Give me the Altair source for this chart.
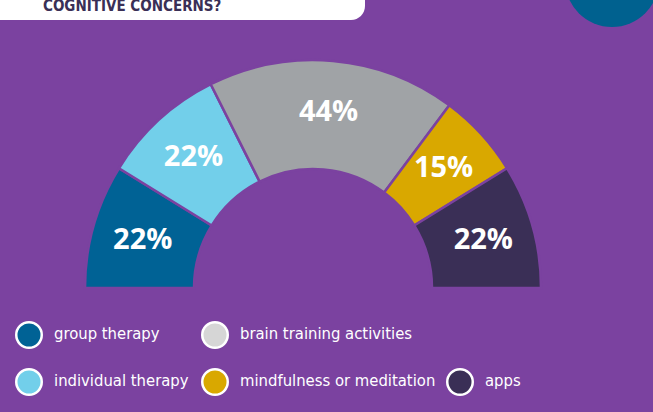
import math
import altair as alt
import pandas as pd

categories = ["group therapy", "individual therapy", "brain training activities",
              "mindfulness or meditation", "apps"]
values = [22, 22, 44, 15, 22]
labels = ["22%", "22%", "44%", "15%", "22%"]
arc_colors = ["#006295", "#72CFEA", "#A0A3A6", "#D9A800", "#3A2F56"]
legend_colors = ["#006295", "#72CFEA", "#D6D6D6", "#D9A800", "#3A2F56"]
title_text = "COGNITIVE CONCERNS?"

BG = "#7B42A0"
CX, CY = 313, 288
COND = "DejaVu Sans Condensed"

df = pd.DataFrame({"category": categories, "value": values, "label": labels,
                   "idx": list(range(len(categories)))})
one = pd.DataFrame({"a": [0]})

theta = alt.Theta("value:Q", stack=True,
                  scale=alt.Scale(range=[-math.pi / 2, math.pi / 2]))
color = alt.Color("category:N", scale=alt.Scale(domain=categories, range=arc_colors),
                  legend=None)

arcs = alt.Chart(df).mark_arc(innerRadius=119, outerRadius=228, stroke=BG,
                              strokeWidth=2.5).encode(
    theta=theta, color=color, order=alt.Order("idx:Q"),
    x=alt.value(CX), y=alt.value(CY))

arc_labels = alt.Chart(df).mark_text(radius=177, font="Open Sans", fontWeight="bold",
                                     fontSize=29, color="white", baseline="middle",
                                     align="center").encode(
    theta=theta, text="label:N", order=alt.Order("idx:Q"),
    x=alt.value(CX), y=alt.value(CY))

box = alt.Chart(one).mark_rect(color="white", cornerRadius=14).encode(
    x=alt.value(-20), x2=alt.value(365), y=alt.value(-30), y2=alt.value(20))
title = alt.Chart(one).mark_text(text=title_text, font=COND,
                                 fontWeight="bold", fontSize=15, color="#3A2F56",
                                 align="left", baseline="alphabetic").encode(
    x=alt.value(43), y=alt.value(11))
corner = alt.Chart(one).mark_point(filled=True, opacity=1, color="#00618F",
                                   size=math.pi * 53 * 53).encode(
    x=alt.value(612), y=alt.value(-20))

legend_pos = [(29, 335), (29, 382), (215, 335), (215, 382), (460, 382)]
legend_layers = []
for (lx, ly), name, col in zip(legend_pos, categories, legend_colors):
    d = pd.DataFrame({"name": [name]})
    legend_layers.append(alt.Chart(d).mark_point(filled=True, opacity=1, color=col,
                                                 stroke="white", strokeWidth=2.5,
                                                 size=650).encode(
        x=alt.value(lx), y=alt.value(ly)))
    legend_layers.append(alt.Chart(d).mark_text(font=COND,
                                                fontSize=16.5, color="white",
                                                align="left", baseline="middle").encode(
        text="name:N", x=alt.value(lx + 25), y=alt.value(ly - 1)))

chart = alt.layer(box, title, corner, arcs, arc_labels, *legend_layers).properties(
    width=653, height=412, padding=0,
    autosize=alt.AutoSizeParams(type="none"),
    background=BG,
).configure_view(stroke=None)

chart.save("out.html", embed_options={"renderer": "svg", "actions": False})
